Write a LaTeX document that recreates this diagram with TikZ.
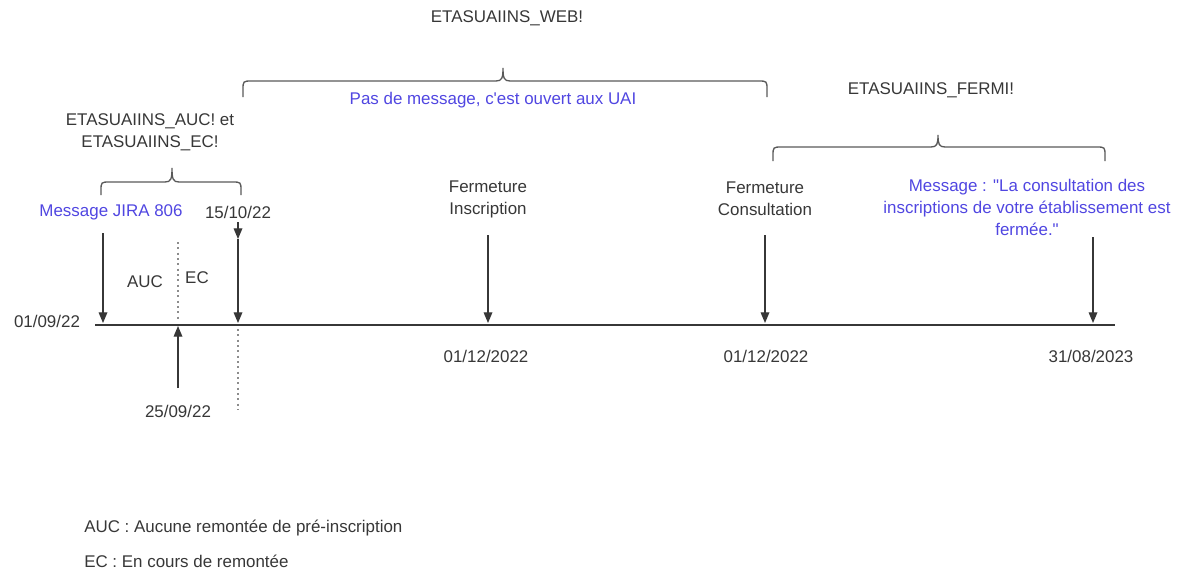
\documentclass[tikz,border=0pt]{standalone}
\usepackage{fontspec}
\setmainfont{Liberation Sans}[Ligatures=TeXOff]
\usetikzlibrary{arrows.meta}
\definecolor{txtgray}{RGB}{55,55,55}
\definecolor{msgblue}{RGB}{80,70,225}
% #1 left x, #2 right x, #3 tip x, #4 tip y, #5 line y, #6 end y
\newcommand\mybrace[6]{%
  \draw[brc] (#1,#6) -- (#1,#5+9) .. controls (#1,#5) .. (#1+9,#5) -- (#3-7,#5)
    .. controls (#3-1,#5) and (#3,#5-3) .. (#3,#4)
    .. controls (#3,#5-3) and (#3+1,#5) .. (#3+7,#5) -- (#2-9,#5)
    .. controls (#2,#5) .. (#2,#5+9) -- (#2,#6);}
\begin{document}
\begin{tikzpicture}[x=0.75pt,y=-0.75pt,
  txt/.style={inner sep=0pt,font=\fontsize{12.7}{16.5}\selectfont,text=txtgray,align=center},
  blue/.style={txt,text=msgblue},
  arr/.style={-{Triangle[length=8pt,width=6.5pt]},line width=0.9pt,txtgray},
  tl/.style={line width=0.9pt,txtgray},
  dot/.style={line width=2pt,black!45,dash pattern=on 1.5pt off 2.5pt},
  brc/.style={line width=1pt,black!65}]
\useasboundingbox (0,0) rectangle (1194,575);
% timeline
\coordinate (t0) at (95,325);
\coordinate (t1) at (1115,325);
\draw[tl] (t0) -- (t1);
\node[txt] (d0) at (47,321) {01/09/22};
% JIRA
\node[blue] (jira) at (111,212) {Message JIRA 806};
\coordinate (a1s) at (103,233);
\coordinate (a1e) at (103,323);
\draw[arr] (a1s) -- (a1e);
% AUC / EC
\coordinate (ds) at (178,242);
\coordinate (de) at (178,322);
\draw[dot] (ds) -- (de);
\node[txt] (auc) at (145,282) {AUC};
\node[txt] (ec) at (197,278) {EC};
\coordinate (ub) at (178,388);
\coordinate (ut) at (178,326);
\draw[arr] (ub) -- (ut);
\node[txt] (d25) at (178,411) {25/09/22};
% 15/10/22
\node[txt] (d15) at (238,212) {15/10/22};
\coordinate (b0) at (238,222);
\coordinate (b1) at (238,239);
\coordinate (b2) at (238,323);
\draw[arr] (b0) -- (b1);
\draw[arr] (b1) -- (b2);
\coordinate (bd0) at (238,329);
\coordinate (bd1) at (238,410);
\draw[dot] (bd0) -- (bd1);
% AUC/EC brace
\mybrace{101}{241}{172}{168}{182}{195}
\node[txt] (lab1) at (150,132) {ETASUAIINS\_AUC! et\\ETASUAIINS\_EC!};
% WEB brace
\mybrace{243}{767}{503}{68}{81}{97}
\node[txt] (lab2) at (507,18) {ETASUAIINS\_WEB!};
\node[blue] (pas) at (493,100) {Pas de message, c'est ouvert aux UAI};
% Fermeture Inscription
\node[txt] (fi) at (488,199) {Fermeture\\Inscription};
\coordinate (fis) at (488,235);
\coordinate (fie) at (488,323);
\draw[arr] (fis) -- (fie);
\node[txt] (d1) at (486,356) {01/12/2022};
% Fermeture Consultation
\node[txt] (fc) at (765,199) {Fermeture\\Consultation};
\coordinate (fcs) at (765,235);
\coordinate (fce) at (765,323);
\draw[arr] (fcs) -- (fce);
\node[txt] (d2) at (766,356) {01/12/2022};
% FERMI brace
\mybrace{773}{1105}{938}{135}{147}{161}
\node[txt] (lab3) at (931,90) {ETASUAIINS\_FERMI!};
\node[blue] (msg) at (1027,207) {Message : "La consultation des\\inscriptions de votre établissement est\\fermée."};
\coordinate (ms) at (1093,237);
\coordinate (me) at (1093,323);
\draw[arr] (ms) -- (me);
\node[txt] (d3) at (1091,356) {31/08/2023};
% legend
\node[txt,anchor=west] (leg1) at (84,528) {AUC : Aucune remontée de pré-inscription};
\node[txt,anchor=west] (leg2) at (84,561) {EC : En cours de remontée};
\end{tikzpicture}
\end{document}
